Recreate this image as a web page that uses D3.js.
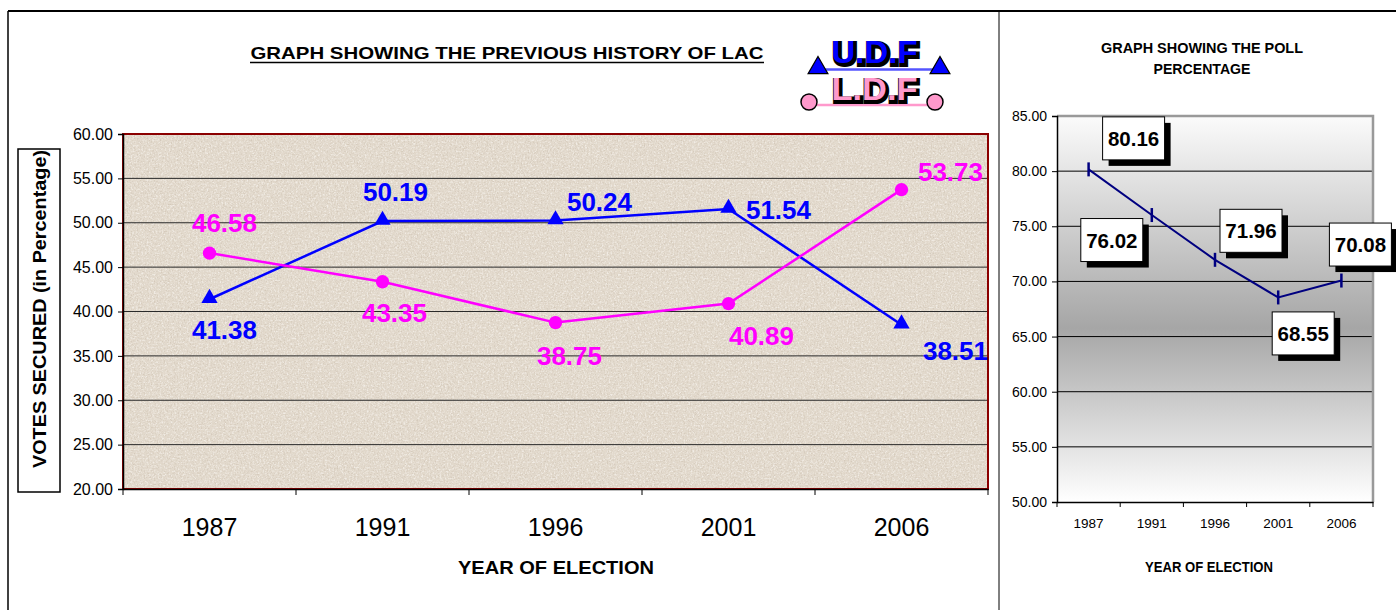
<!DOCTYPE html>
<html>
<head>
<meta charset="utf-8">
<script src="https://cdn.jsdelivr.net/npm/d3@7"></script>
<style>
body { margin: 0; background: #fff; }
svg { display: block; font-family: Arial, "Liberation Sans", sans-serif; }
</style>
</head>
<body>
<div id="chart"></div>
<script>
// ---- data ----
let years = ["1987", "1991", "1996", "2001", "2006"];
let udf = [41.38, 50.19, 50.24, 51.54, 38.51];
let ldf = [46.58, 43.35, 38.75, 40.89, 53.73];
let poll = [80.16, 76.02, 71.96, 68.55, 70.08];
let voteTicks = [20, 25, 30, 35, 40, 45, 50, 55, 60];
let pollTicks = [50, 55, 60, 65, 70, 75, 80, 85];

// label offsets from each point (layout only)
let udfOff = [[15, 31], [13, -29], [44, -19], [50, 1], [54, 26]];
let ldfOff = [[15, -30], [12, 31], [14, 33], [33, 32], [49, -18]];
let pollOff = [[45, -31], [-40, 25], [36, -29], [25, 36], [19, -36]];

let width = 1396, height = 610;
let fmt = d3.format(".2f");

let svg = d3.select("#chart").append("svg")
    .attr("width", width)
    .attr("height", height);

let defs = svg.append("defs");

// beige grain texture for the left plot
let grain = defs.append("filter").attr("id", "grain")
    .attr("x", 0).attr("y", 0).attr("width", 1).attr("height", 1);
grain.append("feTurbulence")
    .attr("type", "fractalNoise")
    .attr("baseFrequency", 0.7)
    .attr("numOctaves", 2)
    .attr("seed", 4);
grain.append("feColorMatrix")
    .attr("type", "matrix")
    .attr("values", "0 0 0 0 0.55  0 0 0 0 0.47  0 0 0 0 0.38  3.2 0 0 0 -1.6");

let light = defs.append("filter").attr("id", "light")
    .attr("x", 0).attr("y", 0).attr("width", 1).attr("height", 1);
light.append("feTurbulence")
    .attr("type", "fractalNoise")
    .attr("baseFrequency", 0.55)
    .attr("numOctaves", 2)
    .attr("seed", 9);
light.append("feColorMatrix")
    .attr("type", "matrix")
    .attr("values", "0 0 0 0 0.97  0 0 0 0 0.95  0 0 0 0 0.92  0 3 0 0 -1.4");

// grey gradient for the right plot
let grad = defs.append("linearGradient").attr("id", "pollBg")
    .attr("x1", 0).attr("y1", 0).attr("x2", 0).attr("y2", 1);
grad.append("stop").attr("offset", "0%").attr("stop-color", "#fbfbfb");
grad.append("stop").attr("offset", "55%").attr("stop-color", "#a6a6a6");
grad.append("stop").attr("offset", "100%").attr("stop-color", "#ffffff");

// ---- outer frame ----
svg.append("line").attr("x1", 8).attr("x2", width).attr("y1", 11).attr("y2", 11)
    .attr("stroke", "#000").attr("stroke-width", 2);
svg.append("line").attr("x1", 8).attr("x2", 8).attr("y1", 11).attr("y2", height)
    .attr("stroke", "#000").attr("stroke-width", 1.5);
svg.append("line").attr("x1", 999).attr("x2", 999).attr("y1", 11).attr("y2", height)
    .attr("stroke", "#000").attr("stroke-width", 1);

// =================== LEFT CHART ===================
let x1 = d3.scaleBand().domain(years).range([123, 988]);
let y1 = d3.scaleLinear().domain([20, 60]).range([489, 134]);

let left = svg.append("g");

//plot background
let plotBox = g => g
    .attr("x", x1.range()[0]).attr("y", y1(60))
    .attr("width", x1.range()[1] - x1.range()[0])
    .attr("height", y1(20) - y1(60));
left.append("rect").call(plotBox).attr("fill", "#e2d9cc");
left.append("rect").call(plotBox).attr("filter", "url(#light)").attr("opacity", 0.6);
left.append("rect").call(plotBox).attr("filter", "url(#grain)").attr("opacity", 0.45);

//gridlines
left.selectAll("line.grid")
    .data(voteTicks.filter(d => d > 20 && d < 60))
    .enter().append("line")
    .attr("class", "grid")
    .attr("x1", x1.range()[0]).attr("x2", x1.range()[1])
    .attr("y1", d => y1(d)).attr("y2", d => y1(d))
    .attr("stroke", "#2a2a2a").attr("stroke-width", 1);

//dark red border
left.append("rect").call(plotBox)
    .attr("fill", "none")
    .attr("stroke", "#8b0000").attr("stroke-width", 2);

//y axis
left.append("g")
    .attr("transform", `translate(${x1.range()[0]},0)`)
    .call(d3.axisLeft(y1).tickValues(voteTicks).tickSize(5).tickPadding(5).tickFormat(fmt))
    .call(g => g.selectAll("text").style("font-size", "16px").attr("fill", "#000"))
    .call(g => g.select(".domain").attr("stroke", "#000").attr("stroke-width", 1.5));

//x axis: labels centred, ticks on category edges
let xAxis1 = left.append("g")
    .attr("transform", `translate(0,${y1(20)})`)
    .call(d3.axisBottom(x1).tickSize(0).tickSizeOuter(0))
    .call(g => g.selectAll("text").attr("y", 47).attr("dy", null)
        .style("font-size", "25px").attr("fill", "#000"))
    .call(g => g.select(".domain").attr("stroke", "#000").attr("stroke-width", 1.5));
xAxis1.selectAll("line.edge")
    .data(years.map(d => x1(d)).concat([x1.range()[1]]))
    .enter().append("line")
    .attr("class", "edge")
    .attr("x1", d => d).attr("x2", d => d)
    .attr("y1", 0).attr("y2", 6)
    .attr("stroke", "#000");

//title
left.append("text")
    .attr("x", 507).attr("y", 59)
    .attr("text-anchor", "middle")
    .attr("textLength", 513).attr("lengthAdjust", "spacingAndGlyphs")
    .style("font-size", "17px").style("font-weight", "bold")
    .text("GRAPH SHOWING THE PREVIOUS HISTORY OF LAC");
left.append("line")
    .attr("x1", 250).attr("x2", 764).attr("y1", 62.5).attr("y2", 62.5)
    .attr("stroke", "#000").attr("stroke-width", 1.3);

//x title
left.append("text")
    .attr("x", 556).attr("y", 574)
    .attr("text-anchor", "middle")
    .attr("textLength", 196).attr("lengthAdjust", "spacingAndGlyphs")
    .style("font-size", "19px").style("font-weight", "bold")
    .text("YEAR OF ELECTION");

//y title in a box
left.append("rect")
    .attr("x", 18).attr("y", 149).attr("width", 42).attr("height", 343)
    .attr("fill", "#fff").attr("stroke", "#000").attr("stroke-width", 1.5);
left.append("text")
    .attr("transform", "translate(46,309) rotate(-90)")
    .attr("text-anchor", "middle")
    .attr("textLength", 318).attr("lengthAdjust", "spacingAndGlyphs")
    .style("font-size", "18px").style("font-weight", "bold")
    .text("VOTES SECURED (in Percentage)");

//series
let line1 = d3.line()
    .x((d, i) => x1(years[i]) + x1.bandwidth() / 2)
    .y(d => y1(d));

let series = [
    { name: "UDF", values: udf, color: "#0000ff", off: udfOff, marker: "tri" },
    { name: "LDF", values: ldf, color: "#ff00ff", off: ldfOff, marker: "dot" }
];

series.forEach(function(s) {
    left.append("path")
        .datum(s.values)
        .attr("d", line1)
        .attr("fill", "none")
        .attr("stroke", s.color)
        .attr("stroke-width", 2.5);

    let sym = s.marker == "tri"
        ? d3.symbol().type(d3.symbolTriangle).size(115)
        : d3.symbol().type(d3.symbolCircle).size(140);

    left.selectAll("path.m" + s.name)
        .data(s.values)
        .enter().append("path")
        .attr("class", "m" + s.name)
        .attr("d", sym)
        .attr("fill", s.color)
        .attr("transform", (d, i) => `translate(${x1(years[i]) + x1.bandwidth() / 2},${y1(d) - (s.marker == "tri" ? 1 : 0)})`);

    left.selectAll("text.l" + s.name)
        .data(s.values)
        .enter().append("text")
        .attr("class", "l" + s.name)
        .attr("x", (d, i) => x1(years[i]) + x1.bandwidth() / 2 + s.off[i][0])
        .attr("y", (d, i) => y1(d) + s.off[i][1] + 9)
        .attr("text-anchor", "middle")
        .attr("fill", s.color)
        .style("font-size", "26px").style("font-weight", "bold")
        .text(d => fmt(d));
});

//legend
let leg = svg.append("g").attr("class", "legend");
leg.append("line").attr("x1", 818).attr("x2", 940).attr("y1", 69.5).attr("y2", 69.5)
    .attr("stroke", "#5555ff").attr("stroke-width", 2.5);
leg.selectAll("path.tri")
    .data([818, 940])
    .enter().append("path")
    .attr("class", "tri")
    .attr("d", d3.symbol().type(d3.symbolTriangle).size(170))
    .attr("transform", d => `translate(${d},68)`)
    .attr("fill", "#0000ff").attr("stroke", "#000").attr("stroke-width", 1.2);
leg.append("line").attr("x1", 809).attr("x2", 935).attr("y1", 105).attr("y2", 105)
    .attr("stroke", "#ff99cc").attr("stroke-width", 2.5);
leg.selectAll("circle")
    .data([809, 935])
    .enter().append("circle")
    .attr("cx", d => d).attr("cy", 102).attr("r", 8)
    .attr("fill", "#ff99cc").attr("stroke", "#000").attr("stroke-width", 1.5);

[["U.D.F", "#0000ff", 63], ["L.D.F", "#ff99cc", 100]].forEach(function(t) {
    leg.append("text")
        .attr("x", 876).attr("y", t[2] + 1.5)
        .attr("text-anchor", "middle")
        .attr("textLength", 86).attr("lengthAdjust", "spacingAndGlyphs")
        .style("font-size", "31px").style("font-weight", "bold")
        .attr("fill", "#000").attr("stroke", "#000").attr("stroke-width", 4)
        .text(t[0]);
    leg.append("text")
        .attr("x", 874.5).attr("y", t[2])
        .attr("text-anchor", "middle")
        .attr("textLength", 86).attr("lengthAdjust", "spacingAndGlyphs")
        .style("font-size", "31px").style("font-weight", "bold")
        .attr("fill", t[1])
        .text(t[0]);
});

// =================== RIGHT CHART ===================
let x2 = d3.scaleBand().domain(years).range([1057, 1373]);
let y2 = d3.scaleLinear().domain([50, 85]).range([502, 116]);

let right = svg.append("g");

right.append("rect")
    .attr("x", x2.range()[0]).attr("y", y2(85))
    .attr("width", x2.range()[1] - x2.range()[0])
    .attr("height", y2(50) - y2(85))
    .attr("fill", "url(#pollBg)");

right.selectAll("line.grid")
    .data(pollTicks.filter(d => d > 50 && d < 85))
    .enter().append("line")
    .attr("class", "grid")
    .attr("x1", x2.range()[0]).attr("x2", x2.range()[1])
    .attr("y1", d => y2(d)).attr("y2", d => y2(d))
    .attr("stroke", "#000").attr("stroke-width", 1);

//grey top/right border
right.append("path")
    .attr("d", `M${x2.range()[0]},${y2(85)}H${x2.range()[1]}V${y2(50)}`)
    .attr("fill", "none").attr("stroke", "#999").attr("stroke-width", 2.5);

right.append("g")
    .attr("transform", `translate(${x2.range()[0]},0)`)
    .call(d3.axisLeft(y2).tickValues(pollTicks).tickSize(5).tickPadding(5).tickFormat(fmt))
    .call(g => g.selectAll("text").style("font-size", "14px").attr("fill", "#000"))
    .call(g => g.select(".domain").attr("stroke", "#000").attr("stroke-width", 1.5));

let xAxis2 = right.append("g")
    .attr("transform", `translate(0,${y2(50)})`)
    .call(d3.axisBottom(x2).tickSize(0).tickSizeOuter(0))
    .call(g => g.selectAll("text").attr("y", 26).attr("dy", null)
        .style("font-size", "13.5px").attr("fill", "#000"))
    .call(g => g.select(".domain").attr("stroke", "#000").attr("stroke-width", 1.5));
xAxis2.selectAll("line.edge")
    .data(years.map(d => x2(d)).concat([x2.range()[1]]))
    .enter().append("line")
    .attr("class", "edge")
    .attr("x1", d => d).attr("x2", d => d)
    .attr("y1", 0).attr("y2", 5)
    .attr("stroke", "#000");

//titles
right.append("text")
    .attr("x", 1202).attr("y", 53)
    .attr("text-anchor", "middle")
    .attr("textLength", 202).attr("lengthAdjust", "spacingAndGlyphs")
    .style("font-size", "14px").style("font-weight", "bold")
    .text("GRAPH SHOWING THE POLL");
right.append("text")
    .attr("x", 1202).attr("y", 74)
    .attr("text-anchor", "middle")
    .attr("textLength", 97).attr("lengthAdjust", "spacingAndGlyphs")
    .style("font-size", "14px").style("font-weight", "bold")
    .text("PERCENTAGE");
right.append("text")
    .attr("x", 1209).attr("y", 572)
    .attr("text-anchor", "middle")
    .attr("textLength", 128).attr("lengthAdjust", "spacingAndGlyphs")
    .style("font-size", "14px").style("font-weight", "bold")
    .text("YEAR OF ELECTION");

//poll line
let line2 = d3.line()
    .x((d, i) => x2(years[i]) + x2.bandwidth() / 2)
    .y(d => y2(d));

right.append("path")
    .datum(poll)
    .attr("d", line2)
    .attr("fill", "none")
    .attr("stroke", "#000080")
    .attr("stroke-width", 2);

right.selectAll("line.mark")
    .data(poll)
    .enter().append("line")
    .attr("class", "mark")
    .attr("x1", (d, i) => x2(years[i]) + x2.bandwidth() / 2)
    .attr("x2", (d, i) => x2(years[i]) + x2.bandwidth() / 2)
    .attr("y1", d => y2(d) - 7).attr("y2", d => y2(d) + 7)
    .attr("stroke", "#000080").attr("stroke-width", 2.5);

//boxed labels with black shadow
let boxW = 62, boxH = 43;
let lab = right.selectAll("g.lab")
    .data(poll)
    .enter().append("g")
    .attr("class", "lab")
    .attr("transform", (d, i) => `translate(${x2(years[i]) + x2.bandwidth() / 2 + pollOff[i][0]},${y2(d) + pollOff[i][1]})`);
lab.append("rect")
    .attr("x", -boxW / 2 + 6).attr("y", -boxH / 2 + 6)
    .attr("width", boxW).attr("height", boxH)
    .attr("fill", "#000");
lab.append("rect")
    .attr("x", -boxW / 2).attr("y", -boxH / 2)
    .attr("width", boxW).attr("height", boxH)
    .attr("fill", "#fff").attr("stroke", "#000").attr("stroke-width", 1);
lab.append("text")
    .attr("x", 0).attr("y", 7.5)
    .attr("text-anchor", "middle")
    .style("font-size", "20.5px").style("font-weight", "bold")
    .text(d => fmt(d));
</script>
</body>
</html>
